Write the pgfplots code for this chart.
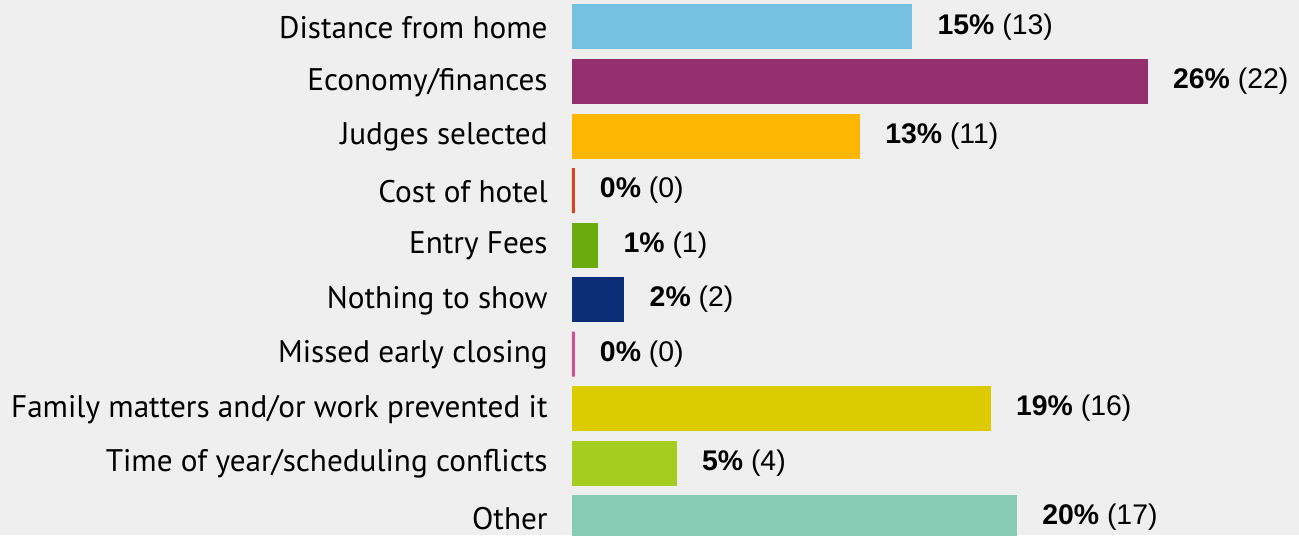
\documentclass[border=0pt]{standalone}
\usepackage{fontspec}
\setmainfont{Liberation Sans}
\newfontfamily\catfont{PT Sans}
\usepackage{pgfplots}
\pgfplotsset{compat=1.18}
\usetikzlibrary{backgrounds}

\definecolor{bg}{HTML}{EFEFEF}
\definecolor{c1}{HTML}{76C1E1}
\definecolor{c2}{HTML}{93306D}
\definecolor{c3}{HTML}{FDB700}
\definecolor{c4}{HTML}{D9461E}
\definecolor{c5}{HTML}{6AAC0D}
\definecolor{c6}{HTML}{0C2D78}
\definecolor{c7}{HTML}{D3508E}
\definecolor{c8}{HTML}{DBCB00}
\definecolor{c9}{HTML}{A5CD20}
\definecolor{c10}{HTML}{86CBB3}

\begin{document}
\begin{tikzpicture}
\begin{axis}[
    xbar,
    bar shift=0pt,
    bar width=22.5pt,
    scale only axis,
    width=363.5pt,
    height=267.5pt,
    xmin=0, xmax=27.78,
    ymin=-0.495, ymax=9.32,
    y dir=reverse,
    axis line style={draw=none},
    clip=true,
    xtick=\empty,
    ytick={0,...,9},
    yticklabels={Distance from home, Economy/finances, Judges selected, Cost of hotel, Entry Fees, Nothing to show, Missed early closing, Family matters and/or work prevented it, Time of year/scheduling conflicts, Other},
    major tick length=0pt,
    ytick style={draw=none},
    y tick label style={font=\catfont\fontsize{15.6}{18}\selectfont, anchor=east, inner sep=0pt, xshift=-12pt, yshift=-0.5pt},
    /pgf/number format/assume math mode=true,
    point meta=explicit,
    nodes near coords={\textbf{\pgfmathprintnumber{\pgfplotspointmeta}\%} (\pgfmathprintnumber{\pgfkeysvalueof{/data point/x}})},
    nodes near coords style={font=\fontsize{14.2}{16}\selectfont, anchor=west, inner sep=0pt, xshift=12.5pt},
]
\addplot[fill=c1, draw=none] coordinates {(13,0) [15]};
\addplot[fill=c2, draw=none] coordinates {(22,1) [26]};
\addplot[fill=c3, draw=none] coordinates {(11,2) [13]};
\addplot[fill=c4, draw=c4, line width=3pt] coordinates {(0,3) [0]};
\addplot[fill=c5, draw=none] coordinates {(1,4) [1]};
\addplot[fill=c6, draw=none] coordinates {(2,5) [2]};
\addplot[fill=c7, draw=c7, line width=3pt] coordinates {(0,6) [0]};
\addplot[fill=c8, draw=none] coordinates {(16,7) [19]};
\addplot[fill=c9, draw=none] coordinates {(4,8) [5]};
\addplot[fill=c10, draw=none] coordinates {(17,9) [20]};
\end{axis}
\begin{scope}[on background layer]
\fill[bg] ([xshift=-286pt]current axis.south west) rectangle (current axis.north east);
\end{scope}
\pgfresetboundingbox
\path ([xshift=-286pt]current axis.south west) rectangle (current axis.north east);
\end{tikzpicture}
\end{document}
